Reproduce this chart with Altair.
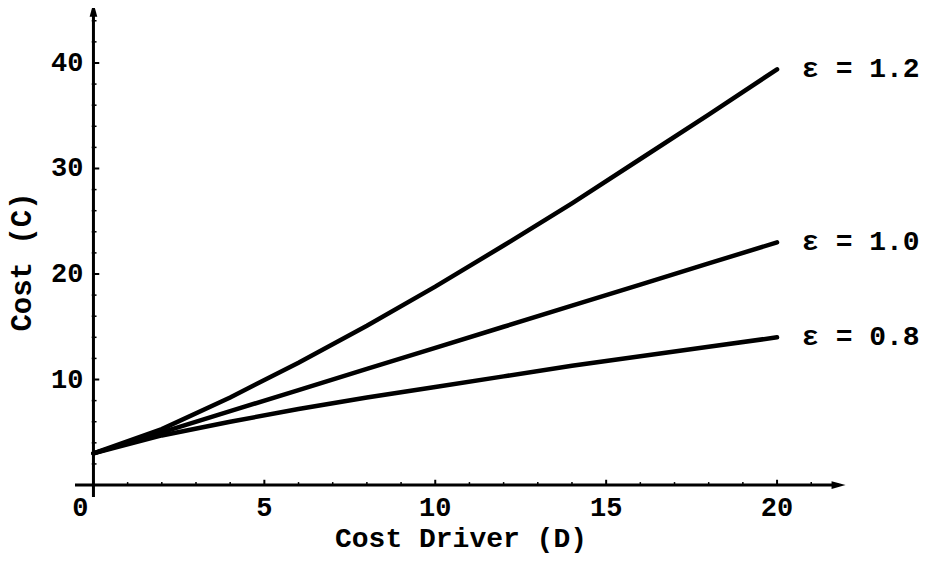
import altair as alt
import pandas as pd

# ---- data ----
D = [0, 2, 4, 6, 8, 10, 12, 14, 16, 18, 20]
C_12 = [3.0, 5.3, 8.3, 11.6, 15.1, 18.8, 22.7, 26.7, 30.9, 35.1, 39.4]
C_10 = [3.0, 5.0, 7.0, 9.0, 11.0, 13.0, 15.0, 17.0, 19.0, 21.0, 23.0]
C_08 = [3.0, 4.7, 6.0, 7.2, 8.3, 9.3, 10.3, 11.3, 12.2, 13.1, 14.0]
series_labels = ["ε = 1.2", "ε = 1.0", "ε = 0.8"]

x_major = [5, 10, 15, 20]
x_tick_labels = ["5", "10", "15", "20"]
x_minor = [1, 2, 3, 4, 6, 7, 8, 9, 11, 12, 13, 14, 16, 17, 18, 19, 21]
y_major = [10, 20, 30, 40]
y_tick_labels = ["10", "20", "30", "40"]
y_minor = [2, 4, 6, 8, 12, 14, 16, 18, 22, 24, 26, 28, 32, 34, 36, 38, 42, 44]
origin_label = "0"
x_title = "Cost Driver (D)"
y_title = "Cost (C)"

x_axis_range = [-0.54, 22.0]
y_axis_range = [-1.14, 45.7]

FONT = "Liberation Mono"

X = alt.Scale(domain=[-2.5, 24.27], nice=False, zero=False)
Y = alt.Scale(domain=[-7.01, 45.21], nice=False, zero=False)


def xq(f="x"):
    return alt.X(f"{f}:Q", scale=X, axis=None)


def yq(f="y"):
    return alt.Y(f"{f}:Q", scale=Y, axis=None)


rows = []
for lab, vals in zip(series_labels, [C_12, C_10, C_08]):
    for d, c in zip(D, vals):
        rows.append({"series": lab, "x": d, "y": c})
lines_df = pd.DataFrame(rows)
ends_df = lines_df.groupby("series", sort=False).tail(1)

lines = alt.Chart(lines_df).mark_line(
    color="black", strokeWidth=4.5, strokeCap="round"
).encode(x=xq(), y=yq(), detail="series:N")

line_labels = alt.Chart(ends_df).mark_text(
    align="left", baseline="middle", dx=25, font=FONT, fontWeight="bold",
    fontSize=28, color="black"
).encode(x=xq(), y=yq(), text="series:N")

# axes lines
xaxis_df = pd.DataFrame({"x": [x_axis_range[0]], "x2": [x_axis_range[1] - 0.2], "y": [0]})
yaxis_df = pd.DataFrame({"x": [0], "y": [y_axis_range[0]], "y2": [y_axis_range[1] - 0.66]})
xaxis = alt.Chart(xaxis_df).mark_rule(color="black", strokeWidth=3).encode(
    x=xq(), x2="x2:Q", y=yq())
yaxis = alt.Chart(yaxis_df).mark_rule(color="black", strokeWidth=3).encode(
    x=xq(), y=yq(), y2="y2:Q")

xarrow = alt.Chart(pd.DataFrame({"x": [x_axis_range[1] - 0.2], "y": [0]})).mark_point(
    shape="M 1 0 L -1 -0.55 L -1 0.55 Z", filled=True, size=196, color="black", opacity=1
).encode(x=xq(), y=yq())
yarrow = alt.Chart(pd.DataFrame({"x": [0], "y": [y_axis_range[1] - 0.66]})).mark_point(
    shape="M 0 -1 L -0.55 1 L 0.55 1 Z", filled=True, size=196, color="black", opacity=1
).encode(x=xq(), y=yq())

# ticks
xmaj_df = pd.DataFrame({"x": x_major, "y": 0.0, "y2": 0.5, "label": x_tick_labels})
xmin_df = pd.DataFrame({"x": x_minor, "y": 0.0, "y2": 0.28})
ymaj_df = pd.DataFrame({"y": y_major, "x": 0.0, "x2": 0.17, "label": y_tick_labels})
ymin_df = pd.DataFrame({"y": y_minor, "x": -0.05, "x2": 0.09})

xmaj = alt.Chart(xmaj_df).mark_rule(color="black", strokeWidth=2).encode(
    x=xq(), y=yq(), y2="y2:Q")
xmin = alt.Chart(xmin_df).mark_rule(color="black", strokeWidth=1.5).encode(
    x=xq(), y=yq(), y2="y2:Q")
ymaj = alt.Chart(ymaj_df).mark_rule(color="black", strokeWidth=2).encode(
    y=yq(), x=xq(), x2="x2:Q")
ymin = alt.Chart(ymin_df).mark_rule(color="black", strokeWidth=1.5).encode(
    y=yq(), x=xq(), x2="x2:Q")

xlabels = alt.Chart(xmaj_df).mark_text(
    align="center", baseline="middle", dy=23, font=FONT, fontWeight="bold",
    fontSize=27, color="black"
).encode(x=xq(), y=yq(), text="label:N")
ylabels = alt.Chart(ymaj_df).mark_text(
    align="right", baseline="middle", dx=-10, font=FONT, fontWeight="bold",
    fontSize=27, color="black"
).encode(x=xq(), y=yq(), text="label:N")
olabel = alt.Chart(pd.DataFrame({"x": [0], "y": [0], "label": [origin_label]})).mark_text(
    align="center", baseline="middle", dx=-13, dy=23, font=FONT, fontWeight="bold",
    fontSize=27, color="black"
).encode(x=xq(), y=yq(), text="label:N")

xtitle = alt.Chart(pd.DataFrame({"t": [x_title]})).mark_text(
    align="center", baseline="alphabetic", font=FONT, fontWeight="bold",
    fontSize=28, color="black"
).encode(x=alt.value(453), y=alt.value(539), text="t:N")
ytitle = alt.Chart(pd.DataFrame({"t": [y_title]})).mark_text(
    align="center", baseline="alphabetic", font=FONT, fontWeight="bold",
    fontSize=29, color="black", angle=270
).encode(x=alt.value(23), y=alt.value(254), text="t:N")

chart = alt.layer(
    xaxis, yaxis, xarrow, yarrow, xmaj, xmin, ymaj, ymin,
    lines, line_labels, xlabels, ylabels, olabel, xtitle, ytitle
).properties(
    width=915, height=551, autosize=alt.AutoSizeParams(type="none"), padding=0,
    background="white"
).configure_view(stroke=None)

chart.save("out.html", embed_options={"renderer": "svg", "actions": False})
